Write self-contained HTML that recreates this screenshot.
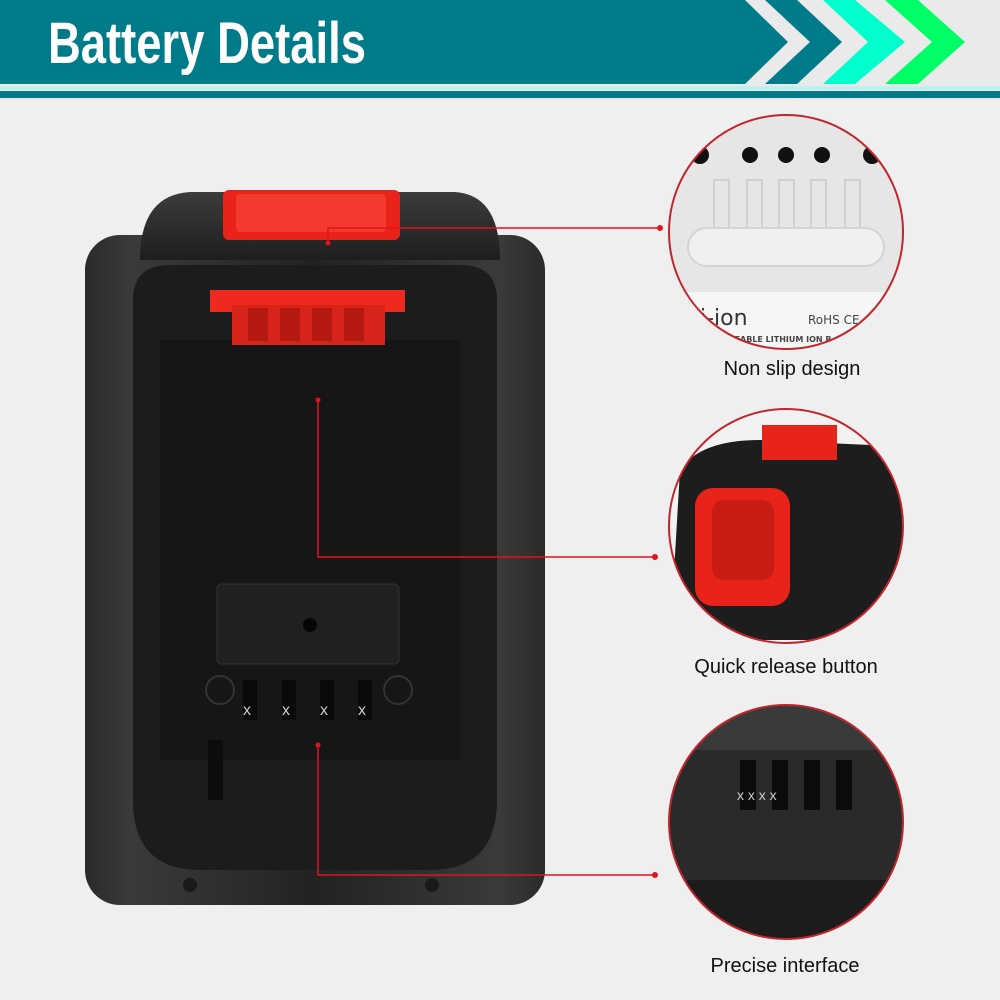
<!DOCTYPE html>
<html><head><meta charset="utf-8"><style>
html,body{margin:0;padding:0;background:#efefef;}
svg{display:block}
</style></head><body>
<svg width="1000" height="1000" viewBox="0 0 1000 1000" xmlns="http://www.w3.org/2000/svg">
<defs>
<linearGradient id="bd" x1="0" x2="1" y1="0" y2="0">
<stop offset="0" stop-color="#2a2a2a"/><stop offset="0.1" stop-color="#3a3a3a"/><stop offset="0.5" stop-color="#222"/><stop offset="0.9" stop-color="#3a3a3a"/><stop offset="1" stop-color="#2a2a2a"/></linearGradient>
<linearGradient id="cap" x1="0" x2="0" y1="0" y2="1"><stop offset="0" stop-color="#3c3c3c"/><stop offset="1" stop-color="#1e1e1e"/></linearGradient>
<clipPath id="c1"><circle cx="786" cy="232" r="117"/></clipPath>
<clipPath id="c2"><circle cx="786" cy="526" r="117"/></clipPath>
<clipPath id="c3"><circle cx="786" cy="822" r="117"/></clipPath>
</defs>
<rect width="1000" height="1000" fill="#efefef"/>
<rect x="0" y="0" width="1000" height="100" fill="#eaeaea"/>
<polygon points="0,0 745,0 788,42 745,84 0,84" fill="#007b8a"/>
<polygon points="765,0 797,0 842,42 797,84 765,84 810,42" fill="#007b8a"/>
<polygon points="823,0 855,0 905,42 855,84 823,84 868,42" fill="#00ffcc"/>
<polygon points="885,0 918,0 965,42 918,84 885,84 932,42" fill="#00ff66"/>
<rect x="0" y="86" width="1000" height="4" fill="#bff0f0"/>
<rect x="0" y="91" width="1000" height="7" fill="#007b8a"/>
<text x="48" y="63" font-family="Liberation Sans, sans-serif" font-weight="bold" font-size="58" fill="#fff" textLength="318" lengthAdjust="spacingAndGlyphs">Battery Details</text>
<rect x="85" y="235" width="460" height="670" rx="35" fill="url(#bd)"/>
<path d="M140,260 Q140,195 190,192 L455,192 Q500,195 500,260 Z" fill="url(#cap)"/>
<rect x="223" y="190" width="177" height="50" rx="6" fill="#e8231a"/>
<rect x="236" y="194" width="150" height="38" rx="4" fill="#f23b2e"/>
<path d="M133,300 Q133,265 170,265 L460,265 Q497,265 497,300 L497,800 Q497,870 430,870 L200,870 Q133,870 133,800 Z" fill="#1c1c1c"/>
<rect x="160" y="340" width="300" height="420" fill="#161616"/>
<rect x="210" y="290" width="195" height="22" fill="#ee2a1e"/>
<rect x="232" y="305" width="153" height="40" fill="#d8231a"/>
<rect x="248" y="308" width="20" height="33" fill="#b51a12"/><rect x="280" y="308" width="20" height="33" fill="#b51a12"/><rect x="312" y="308" width="20" height="33" fill="#b51a12"/><rect x="344" y="308" width="20" height="33" fill="#b51a12"/>
<rect x="217" y="584" width="182" height="80" rx="5" fill="#202020" stroke="#333"/>
<circle cx="310" cy="625" r="7" fill="#050505"/>
<circle cx="220" cy="690" r="14" fill="none" stroke="#333" stroke-width="2"/>
<circle cx="398" cy="690" r="14" fill="none" stroke="#333" stroke-width="2"/>
<rect x="243" y="680" width="14" height="40" fill="#0a0a0a"/><rect x="282" y="680" width="14" height="40" fill="#0a0a0a"/><rect x="320" y="680" width="14" height="40" fill="#0a0a0a"/><rect x="358" y="680" width="14" height="40" fill="#0a0a0a"/>
<text x="243" y="715" font-size="16" fill="#ccc" font-family="Liberation Sans,sans-serif">x</text>
<text x="282" y="715" font-size="16" fill="#ccc" font-family="Liberation Sans,sans-serif">x</text>
<text x="320" y="715" font-size="16" fill="#ccc" font-family="Liberation Sans,sans-serif">x</text>
<text x="358" y="715" font-size="16" fill="#ccc" font-family="Liberation Sans,sans-serif">x</text>
<rect x="208" y="740" width="15" height="60" fill="#0c0c0c"/>
<circle cx="190" cy="885" r="7" fill="#1a1a1a"/><circle cx="432" cy="885" r="7" fill="#1a1a1a"/>
<g clip-path="url(#c1)">
<rect x="660" y="110" width="260" height="250" fill="#e6e6e6"/>
<circle cx="700" cy="155" r="9" fill="#111"/><circle cx="750" cy="155" r="8" fill="#111"/><circle cx="786" cy="155" r="8" fill="#111"/><circle cx="822" cy="155" r="8" fill="#111"/><circle cx="872" cy="155" r="9" fill="#111"/>
<g fill="none" stroke="#d0d0d0" stroke-width="2"><rect x="714" y="180" width="15" height="50"/><rect x="747" y="180" width="15" height="50"/><rect x="779" y="180" width="15" height="50"/><rect x="811" y="180" width="15" height="50"/><rect x="845" y="180" width="15" height="50"/></g>
<rect x="688" y="228" width="196" height="38" rx="19" fill="#f0f0f0" stroke="#d4d4d4" stroke-width="2"/>
<rect x="660" y="292" width="260" height="70" fill="#f6f6f6"/>
<text x="700" y="325" font-family="DejaVu Sans,sans-serif" font-size="22" fill="#333">i-ion</text>
<text x="808" y="324" font-family="DejaVu Sans,sans-serif" font-size="12" fill="#444">RoHS CE</text>
<text x="728" y="342" font-family="DejaVu Sans,sans-serif" font-size="8" font-weight="bold" fill="#444">GEABLE LITHIUM ION B</text>
</g>
<circle cx="786" cy="232" r="117" fill="none" stroke="#c0272d" stroke-width="2"/>
<g clip-path="url(#c2)">
<rect x="660" y="400" width="260" height="250" fill="#f2f2f2"/>
<path d="M680,470 Q700,440 760,440 L870,445 L920,470 L920,640 L670,640 Z" fill="#1d1d1d"/>
<rect x="762" y="425" width="75" height="35" fill="#e8231a"/>
<rect x="695" y="488" width="95" height="118" rx="18" fill="#e8231a"/>
<rect x="712" y="500" width="62" height="80" rx="12" fill="#c81c14"/>
</g>
<circle cx="786" cy="526" r="117" fill="none" stroke="#c0272d" stroke-width="2"/>
<g clip-path="url(#c3)">
<rect x="660" y="700" width="260" height="250" fill="#2a2a2a"/>
<rect x="660" y="700" width="260" height="50" fill="#3a3a3a"/>
<rect x="740" y="760" width="16" height="50" fill="#0c0c0c"/><rect x="772" y="760" width="16" height="50" fill="#0c0c0c"/><rect x="804" y="760" width="16" height="50" fill="#0c0c0c"/><rect x="836" y="760" width="16" height="50" fill="#0c0c0c"/>
<text x="737" y="800" font-size="14" fill="#ccc" font-family="Liberation Sans,sans-serif">x   x   x   x</text>
<rect x="660" y="880" width="260" height="70" fill="#1c1c1c"/>
</g>
<circle cx="786" cy="822" r="117" fill="none" stroke="#c0272d" stroke-width="2"/>
<g stroke="#e0141b" stroke-width="1.5" fill="none">
<polyline points="328,243 328,228 660,228"/>
<polyline points="318,400 318,557 655,557"/>
<polyline points="318,745 318,875 655,875"/>
</g>
<g fill="#e0141b">
<circle cx="328" cy="243" r="2.5"/><circle cx="660" cy="228" r="3"/>
<circle cx="318" cy="400" r="2.5"/><circle cx="655" cy="557" r="3"/>
<circle cx="318" cy="745" r="2.5"/><circle cx="655" cy="875" r="3"/>
</g>
<g font-family="Liberation Sans, sans-serif" font-size="20" fill="#111" text-anchor="middle">
<text x="792" y="375">Non slip design</text>
<text x="786" y="673">Quick release button</text>
<text x="785" y="972">Precise interface</text>
</g>
</svg>
</body></html>
